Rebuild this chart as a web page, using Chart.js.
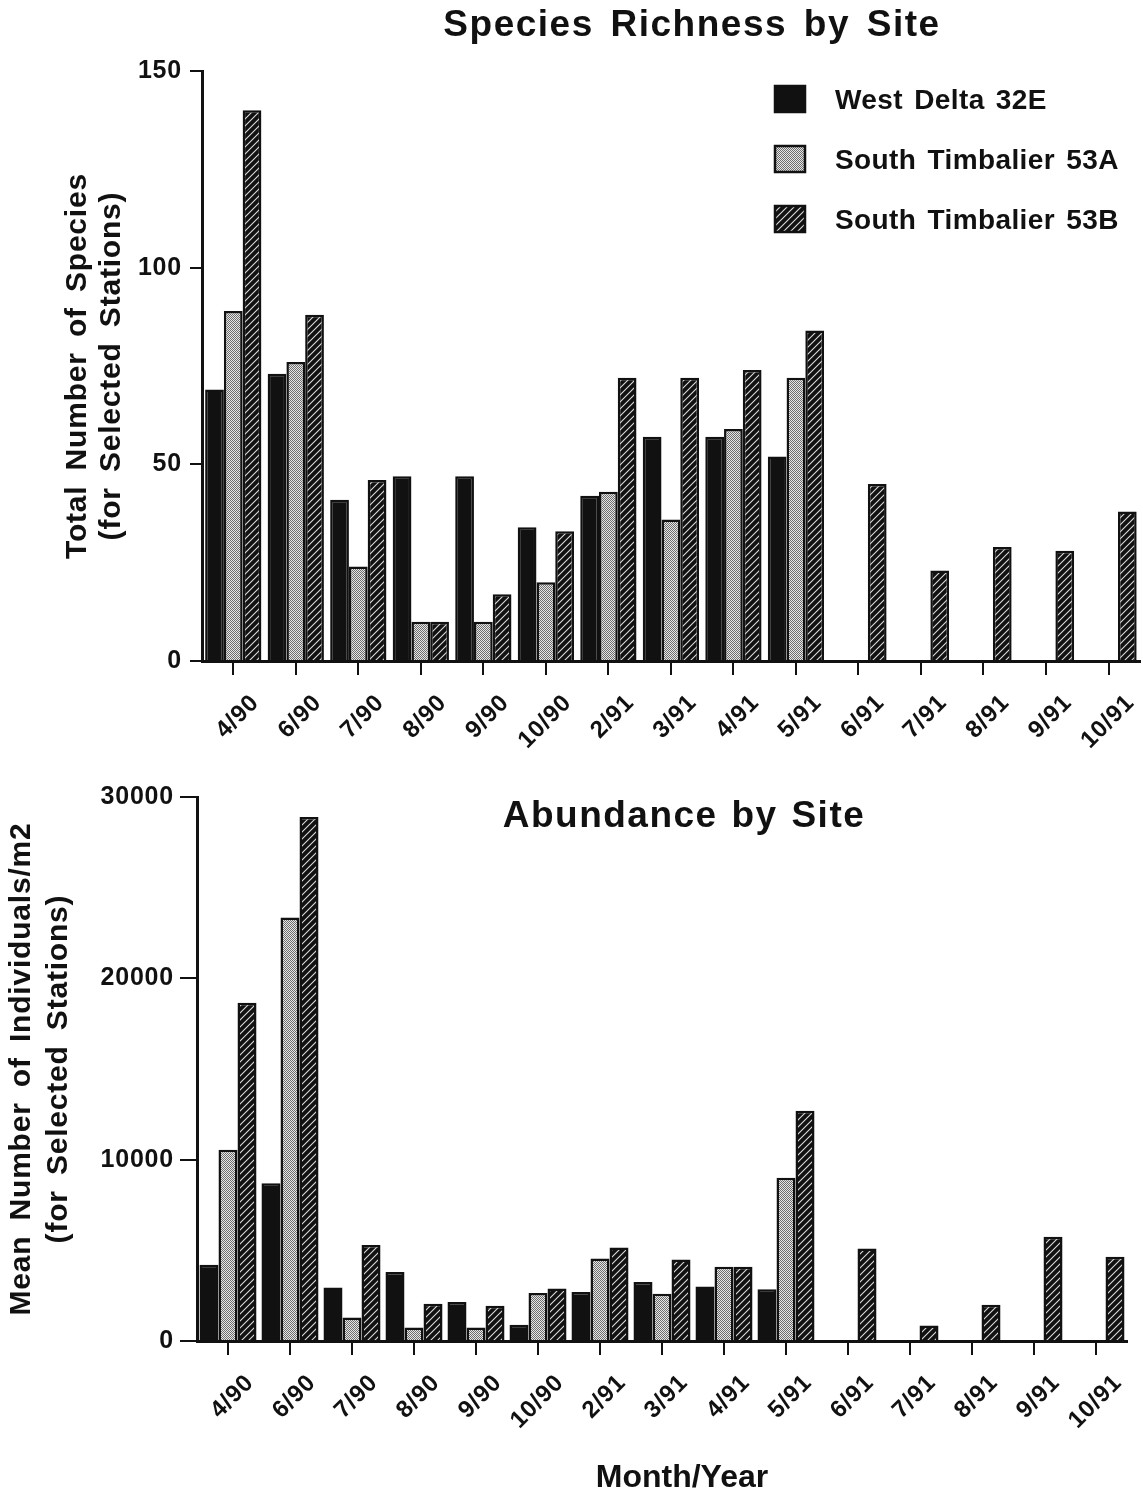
<!DOCTYPE html>
<html>
<head>
<meta charset="utf-8">
<title>Species Richness and Abundance by Site</title>
<script src="https://cdn.jsdelivr.net/npm/chart.js@4.4.0/dist/chart.umd.min.js"></script>
<style>
  html, body { margin: 0; padding: 0; background: #fff; }
  canvas { display: block; }
</style>
</head>
<body>
<canvas id="richness" width="1143" height="770"></canvas>
<canvas id="abundance" width="1143" height="730"></canvas>
<script>
// Sampling dates (month/year)
const months = ['4/90', '6/90', '7/90', '8/90', '9/90', '10/90', '2/91', '3/91',
                '4/91', '5/91', '6/91', '7/91', '8/91', '9/91', '10/91'];
const siteNames = ['West Delta 32E', 'South Timbalier 53A', 'South Timbalier 53B'];

// Total number of species (selected stations)
const richnessWD32E  = [69, 73, 41, 47, 47, 34, 42, 57, 57, 52, null, null, null, null, null];
const richnessST53A  = [89, 76, 24, 10, 10, 20, 43, 36, 59, 72, null, null, null, null, null];
const richnessST53B  = [140, 88, 46, 10, 17, 33, 72, 72, 74, 84, 45, 23, 29, 28, 38];
const richnessTicks  = [0, 50, 100, 150];

// Mean number of individuals per m2 (selected stations)
const abundanceWD32E = [4200, 8700, 2950, 3800, 2150, 900, 2700, 3250, 3000, 2850, null, null, null, null, null];
const abundanceST53A = [10550, 23350, 1300, 750, 750, 2650, 4550, 2600, 4100, 9000, null, null, null, null, null];
const abundanceST53B = [18650, 28900, 5300, 2050, 1950, 2900, 5150, 4500, 4100, 12700, 5100, 850, 2000, 5750, 4650];
const abundanceTicks = [0, 10000, 20000, 30000];

const FONT = "'Liberation Sans', Arial, Helvetica, sans-serif";
const INK = '#111';

// Fill patterns: solid, stipple, diagonal hatch
function stippleTile() {
  const c = document.createElement('canvas');
  c.width = c.height = 4;
  const g = c.getContext('2d');
  g.fillStyle = '#e6e6e6';
  g.fillRect(0, 0, 4, 4);
  g.fillStyle = '#6e6e6e';
  for (let y = 0; y < 4; y++) {
    for (let x = (y % 2); x < 4; x += 2) g.fillRect(x, y, 1, 1);
  }
  return c;
}
function hatchTile() {
  const n = 7;
  const c = document.createElement('canvas');
  c.width = c.height = n;
  const g = c.getContext('2d');
  g.fillStyle = INK;
  g.fillRect(0, 0, n, n);
  g.strokeStyle = '#dcdcdc';
  g.lineWidth = 1.1;
  g.beginPath();
  g.moveTo(-1, n + 1); g.lineTo(n + 1, -1);
  g.moveTo(-1, 1); g.lineTo(1, -1);
  g.moveTo(n - 1, n + 1); g.lineTo(n + 1, n - 1);
  g.stroke();
  return c;
}
function siteFills(ctx) {
  return [INK, ctx.createPattern(stippleTile(), 'repeat'), ctx.createPattern(hatchTile(), 'repeat')];
}

function barDatasets(series, fills, catPct) {
  return series.map((data, i) => ({
    label: siteNames[i],
    data,
    backgroundColor: fills[i],
    borderColor: INK,
    borderWidth: 2.5,
    barPercentage: 1.0,
    categoryPercentage: catPct
  }));
}

// Free text (chart titles, x title) and the key, drawn on top of the chart
const annotate = {
  id: 'annotate',
  beforeDraw(chart) {
    const c = chart.ctx;
    c.letterSpacing = '0.8px';
    c.wordSpacing = '6px';
  },
  afterDraw(chart, args, opts) {
    const c = chart.ctx;
    c.save();
    c.fillStyle = INK;
    c.textBaseline = 'alphabetic';
    for (const t of (opts.texts || [])) {
      c.font = `bold ${t.size}px ${FONT}`;
      c.letterSpacing = t.ls + 'px';
      c.wordSpacing = t.ws + 'px';
      c.textAlign = 'center';
      c.fillText(t.text, t.x, t.y);
    }
    const k = opts.key;
    if (k) {
      c.font = `bold ${k.size}px ${FONT}`;
      c.letterSpacing = k.ls + 'px';
      c.wordSpacing = k.ws + 'px';
      c.textAlign = 'left';
      chart.data.datasets.forEach((ds, i) => {
        const cy = k.y + i * k.gap;
        c.fillStyle = ds.backgroundColor;
        c.fillRect(k.x, cy - k.h / 2, k.w, k.h);
        c.strokeStyle = INK;
        c.lineWidth = 2.5;
        c.strokeRect(k.x, cy - k.h / 2, k.w, k.h);
        c.fillStyle = INK;
        c.fillText(ds.label, k.textX, cy + k.size * 0.36);
      });
    }
    c.restore();
    c.letterSpacing = '0px';
    c.wordSpacing = '0px';
  }
};

function axes(o) {
  return {
    x: {
      grid: { display: true, drawOnChartArea: false, offset: false, color: INK, lineWidth: 2, tickLength: 14 },
      border: { display: true, color: INK, width: 3 },
      ticks: {
        color: INK, autoSkip: false, minRotation: 45, maxRotation: 45,
        padding: 14, labelOffset: 22,
        font: { family: FONT, size: 24, weight: 'bold' }
      },
      afterFit: s => { s.height = o.xHeight; }
    },
    y: {
      min: 0, max: o.ticks[o.ticks.length - 1],
      afterBuildTicks: s => { s.ticks = o.ticks.map(v => ({ value: v })); },
      grid: { display: true, drawOnChartArea: false, color: INK, lineWidth: 2, tickLength: o.yTick },
      border: { display: true, color: INK, width: 3 },
      ticks: {
        color: INK, padding: o.yPad,
        font: { family: FONT, size: 25, weight: 'bold' },
        callback: v => String(v)
      },
      title: {
        display: true, text: o.title, color: INK,
        font: { family: FONT, size: 30, weight: 'bold', lineHeight: o.titleLH },
        padding: { top: o.titlePad, bottom: 0 }
      },
      afterFit: s => { s.width = o.yWidth; }
    }
  };
}

// Species richness
const ctxA = document.getElementById('richness').getContext('2d');
new Chart(ctxA, {
  type: 'bar',
  data: {
    labels: months,
    datasets: barDatasets([richnessWD32E, richnessST53A, richnessST53B], siteFills(ctxA), 0.9)
  },
  options: {
    responsive: false, animation: false, devicePixelRatio: 1,
    layout: { padding: { left: 0, top: 71, right: 3, bottom: 0 } },
    scales: axes({
      ticks: richnessTicks, xHeight: 109, yWidth: 202, yTick: 12, yPad: 8,
      title: ['Total Number of Species', '(for Selected Stations)'], titleLH: 34 / 30, titlePad: 61
    }),
    plugins: {
      legend: { display: false },
      tooltip: { enabled: false },
      annotate: {
        texts: [{ text: 'Species Richness by Site', x: 692, y: 36, size: 37, ls: 1.5, ws: 5 }],
        key: { x: 775, y: 99, w: 30, h: 26, gap: 60, textX: 835, size: 28, ls: 0.4, ws: 3 }
      }
    }
  },
  plugins: [annotate]
});

// Abundance
const ctxB = document.getElementById('abundance').getContext('2d');
new Chart(ctxB, {
  type: 'bar',
  data: {
    labels: months,
    datasets: barDatasets([abundanceWD32E, abundanceST53A, abundanceST53B], siteFills(ctxB), 0.92)
  },
  options: {
    responsive: false, animation: false, devicePixelRatio: 1,
    layout: { padding: { left: 0, top: 27, right: 16, bottom: 0 } },
    scales: axes({
      ticks: abundanceTicks, xHeight: 159, yWidth: 197, yTick: 17, yPad: 6,
      title: ['Mean Number of Individuals/m2', '(for Selected Stations)'], titleLH: 37 / 30, titlePad: 3.5
    }),
    plugins: {
      legend: { display: false },
      tooltip: { enabled: false },
      annotate: {
        texts: [
          { text: 'Abundance by Site', x: 684, y: 57, size: 37, ls: 1.5, ws: 2 },
          { text: 'Month/Year', x: 682, y: 717, size: 32, ls: 0, ws: 0 }
        ]
      }
    }
  },
  plugins: [annotate]
});
</script>
</body>
</html>
